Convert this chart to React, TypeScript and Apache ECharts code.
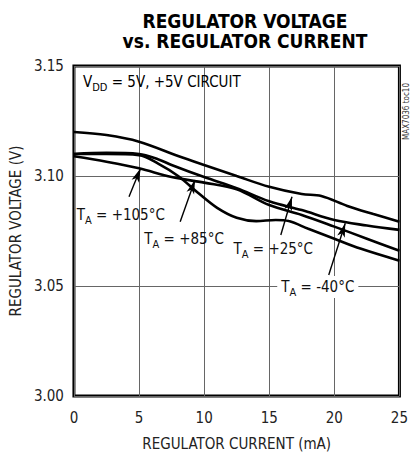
import React, { useEffect, useRef } from "react";
import * as echarts from "echarts";

const FONT = "'Liberation Sans Narrow', 'DejaVu Sans Condensed', 'Roboto', sans-serif";

const titleLines = ["REGULATOR VOLTAGE", "vs. REGULATOR CURRENT"];
const xTicks = [0, 5, 10, 15, 20, 25];
const yTicks = [3.0, 3.05, 3.1, 3.15];

// current (mA)
const currentA = [0, 2.5, 5, 8, 10, 12.5, 15, 17.5, 19, 21, 23, 25];
const voltA = [3.12, 3.1186, 3.1156, 3.1091, 3.105, 3.1, 3.0951, 3.0918, 3.0909, 3.0864, 3.0827, 3.0792];

const currentB = [0, 2.5, 5, 6.5, 7.5, 10, 12.5, 15, 17.5, 20, 22.5, 25];
const voltB = [3.11, 3.1105, 3.11, 3.1075, 3.105, 3.0995, 3.0945, 3.0885, 3.0845, 3.08, 3.0775, 3.0755];

const currentC = [0, 2.5, 5, 7.5, 10, 12.5, 15, 17.5, 20, 22.5, 25];
const voltC = [3.109, 3.1065, 3.1035, 3.0995, 3.097, 3.094, 3.0868, 3.0823, 3.077, 3.0715, 3.066];

const currentD = [0, 2.5, 5, 6.5, 8, 9.5, 11, 12.5, 14, 15.5, 16.5, 18, 20, 22, 25];
const voltD = [3.11, 3.11, 3.1095, 3.1055, 3.1, 3.0925, 3.0855, 3.081, 3.0795, 3.08, 3.0795, 3.076, 3.0715, 3.067, 3.0615];

const seriesNames = ["+25°C", "+85°C", "+105°C", "-40°C"];

// annotation label centres and arrows (tail -> tip), in data units
const labelTexts = ["+105°C", "+85°C", "+25°C", "-40°C"];
const labelPos = [
  [3.6, 3.0825],
  [8.46, 3.0712],
  [15.31, 3.0668],
  [18.73, 3.0495],
];
const arrowTail = [
  [4.23, 3.0906],
  [8.16, 3.0792],
  [15.89, 3.0732],
  [19.57, 3.055],
];
const arrowTip = [
  [5.12, 3.1035],
  [9.3, 3.0982],
  [16.75, 3.0906],
  [20.84, 3.0785],
];

function zip(xs: number[], ys: number[]) {
  return xs.map((x, i) => [x, ys[i]]);
}

export default function App() {
  const ref = useRef<HTMLDivElement>(null);
  useEffect(() => {
    if (!ref.current) return;
    const chart = echarts.init(ref.current, null, { renderer: "svg" });
    const lineStyle = { color: "#000", width: 2.6 };
    const mkSeries = (name: string, xs: number[], ys: number[]) => ({
      name,
      type: "line",
      data: zip(xs, ys),
      smooth: 0.35,
      showSymbol: false,
      symbol: "none",
      lineStyle,
      z: 3,
    });
    const rich = {
      t: { fontFamily: FONT, fontSize: 15, color: "#111", lineHeight: 22, verticalAlign: "middle" },
      s: { fontFamily: FONT, fontSize: 11, color: "#111", lineHeight: 10, verticalAlign: "bottom" },
    };
    chart.setOption({
      animation: false,
      backgroundColor: "#fff",
      textStyle: { fontFamily: FONT },
      title: {
        text: titleLines.join("\n"),
        left: 240,
        textAlign: "center",
        top: 6,
        textStyle: { fontFamily: FONT, fontWeight: 900, fontSize: 19, lineHeight: 20, color: "#000" },
      },
      grid: {
        left: 73,
        right: 10,
        top: 66,
        bottom: 60,
        show: true,
        borderColor: "#000",
        borderWidth: 3,
        containLabel: false,
      },
      xAxis: {
        type: "value",
        min: xTicks[0],
        max: xTicks[xTicks.length - 1],
        interval: 5,
        name: "REGULATOR CURRENT (mA)",
        nameLocation: "middle",
        nameGap: 40,
        nameTextStyle: { fontFamily: FONT, fontSize: 15, color: "#222" },
        axisLine: { show: false },
        axisTick: { show: false },
        axisLabel: { fontFamily: FONT, fontSize: 15, color: "#222", margin: 14 },
        splitLine: { show: true, lineStyle: { color: "#666", width: 1 } },
      },
      yAxis: {
        type: "value",
        min: yTicks[0],
        max: yTicks[yTicks.length - 1],
        interval: 0.05,
        name: "REGULATOR VOLTAGE (V)",
        nameLocation: "middle",
        nameGap: 50,
        nameTextStyle: { fontFamily: FONT, fontSize: 15, color: "#222" },
        axisLine: { show: false },
        axisTick: { show: false },
        axisLabel: {
          fontFamily: FONT,
          fontSize: 15,
          color: "#222",
          margin: 10,
          formatter: (v: number) => v.toFixed(2),
        },
        splitLine: { show: true, lineStyle: { color: "#666", width: 1 } },
      },
      graphic: [
        {
          type: "text",
          left: 83,
          top: 74,
          style: {
            text: "{t|V}{s|DD}{t| = 5V, +5V CIRCUIT}",
            rich,
          },
          z: 10,
        },
        {
          type: "text",
          x: 402,
          y: 140,
          rotation: Math.PI / 2,
          style: {
            text: "MAX7036 toc10",
            fontFamily: FONT,
            fontSize: 8,
            fill: "#333",
          },
        },
      ],
      series: [
        mkSeries(seriesNames[0], currentA, voltA),
        mkSeries(seriesNames[1], currentB, voltB),
        mkSeries(seriesNames[2], currentC, voltC),
        mkSeries(seriesNames[3], currentD, voltD),
        {
          type: "line",
          data: [],
          silent: true,
          markLine: {
            silent: true,
            symbol: ["none", "arrow"],
            symbolSize: [6, 14],
            label: { show: false },
            lineStyle: { color: "#000", width: 1.4, type: "solid" },
            data: arrowTail.map((t, i) => [
              { coord: t },
              { coord: arrowTip[i] },
            ]),
            z: 6,
          },
          markPoint: {
            silent: true,
            symbol: "rect",
            symbolSize: 0,
            data: labelPos.map((p, i) => ({
              coord: p,
              label: {
                show: true,
                position: "inside",
                formatter: "{t|T}{s|A}{t| = " + labelTexts[i] + "}",
                rich,
                backgroundColor: i === 3 ? "#fff" : "transparent",
                padding: i === 3 ? [0, 4, 0, 4] : 0,
              },
            })),
            z: 7,
          },
        },
      ],
    });
    return () => chart.dispose();
  }, []);
  return (
    <div
      ref={ref}
      style={{ position: "fixed", left: 0, top: 0, width: 411, height: 456, background: "#fff" }}
    />
  );
}
